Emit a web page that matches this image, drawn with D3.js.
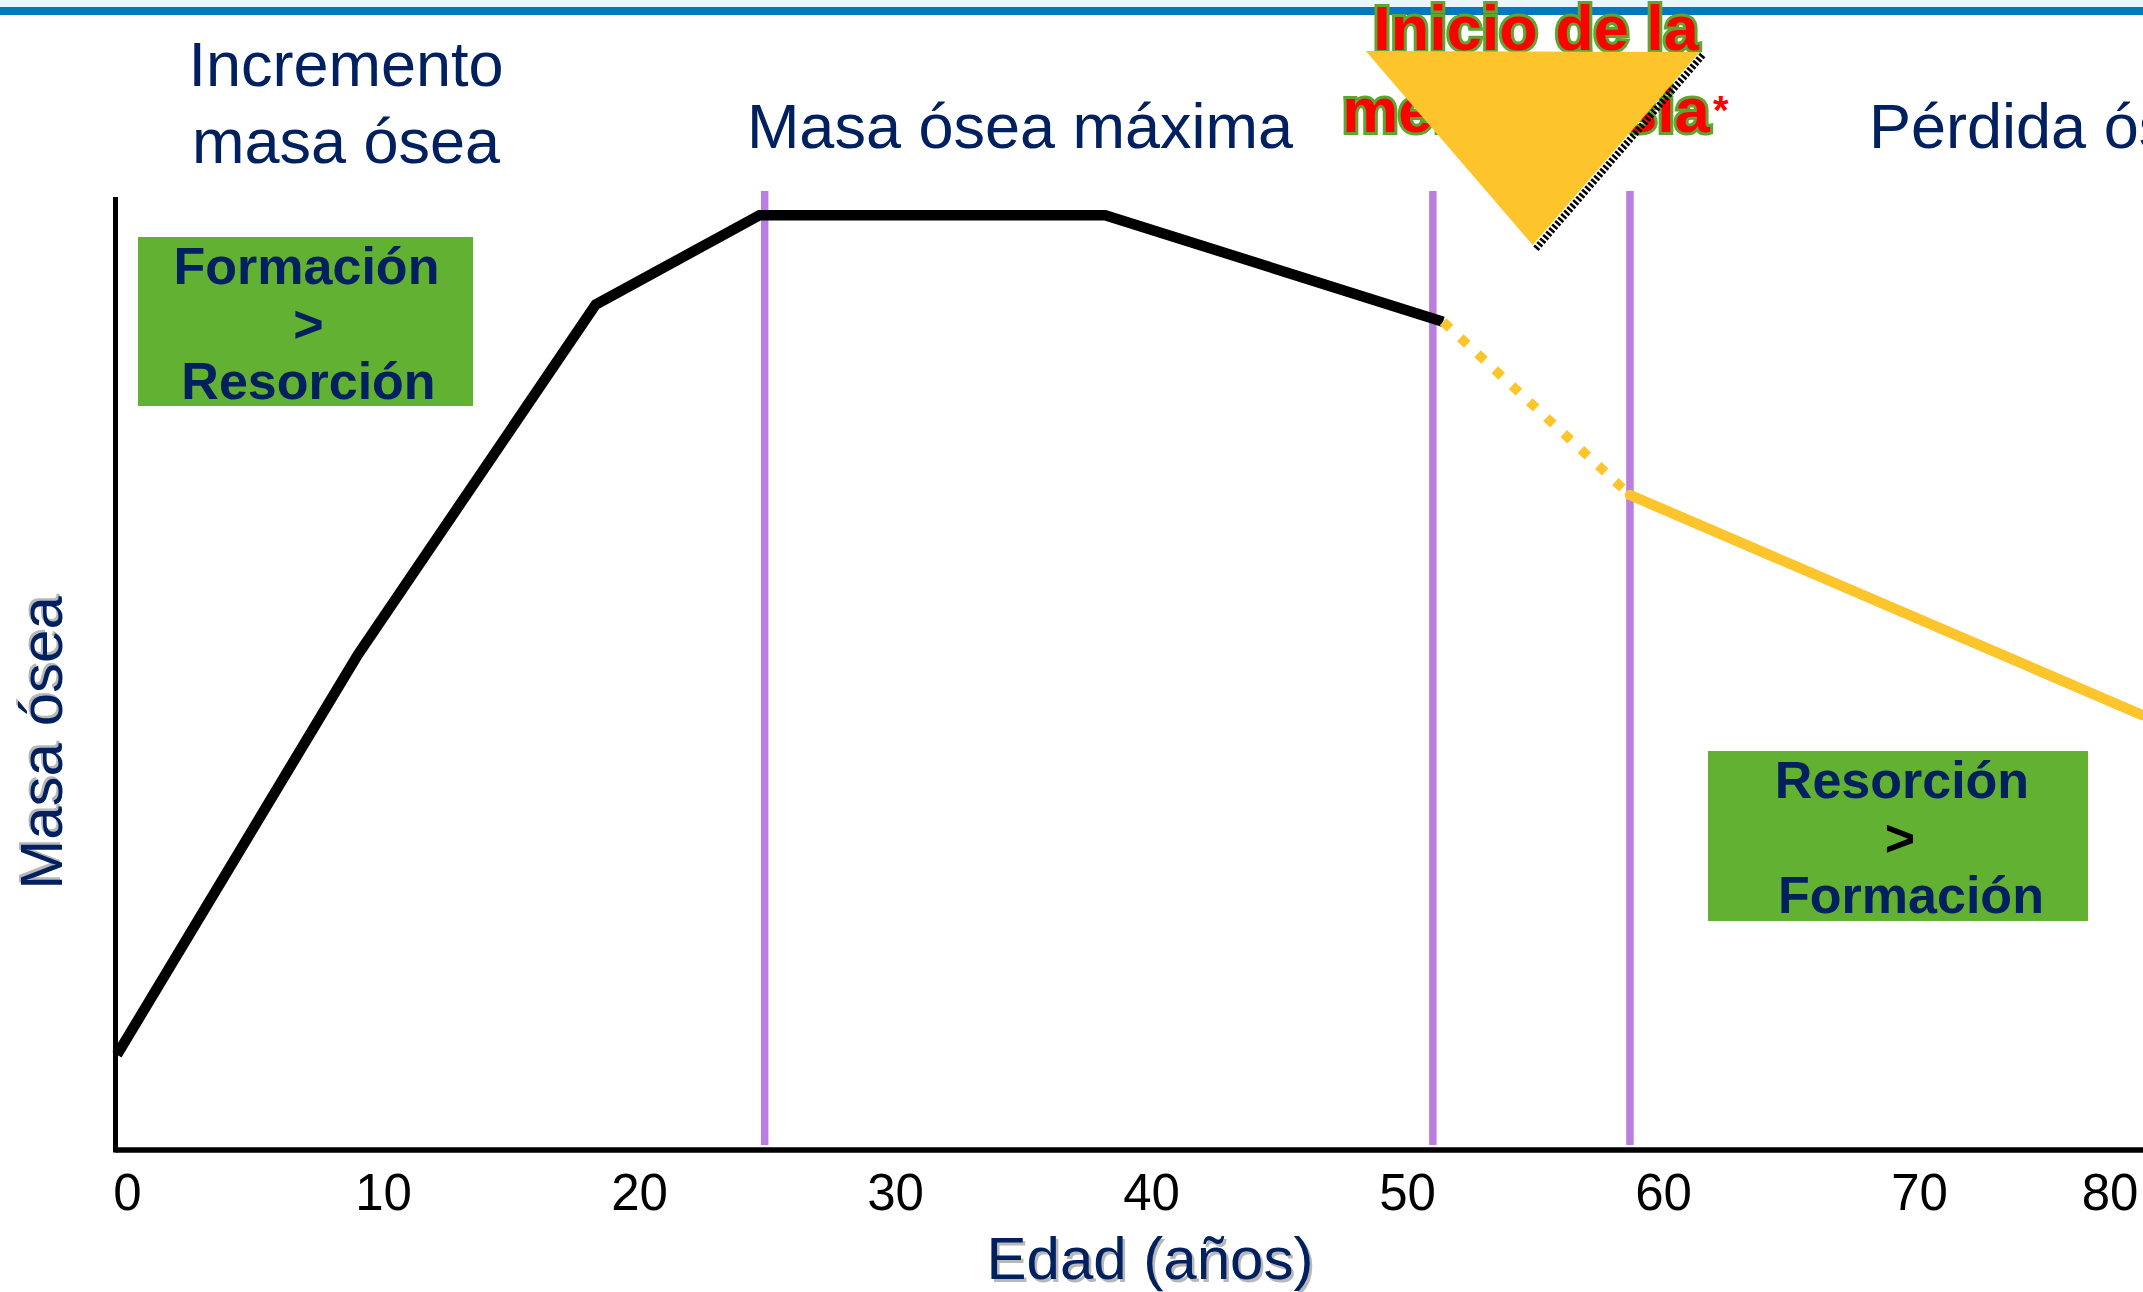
<!DOCTYPE html>
<html>
<head>
<meta charset="utf-8">
<script src="https://cdn.jsdelivr.net/npm/d3@7"></script>
<style>
  html, body { margin: 0; padding: 0; background: #fff; }
  svg { display: block; font-family: 'Liberation Sans', Arial, sans-serif; }
</style>
</head>
<body>
<div id="grafico"></div>
<script>
'use strict';

// Datos
var edadTicks = [0, 10, 20, 30, 40, 50, 60, 70, 80];
// Tramo negro: crecimiento, pico y primera perdida
var edadNegra = [0, 9.4, 18.7, 25.1, 38.6, 51.8];
var masaNegra = [10.0, 52.0, 88.8, 98.2, 98.2, 87.0];
// Tramo punteado amarillo (transicion menopausica)
var edadPunteada = [51.8, 59.1];
var masaPunteada = [87.0, 68.8];
// Tramo amarillo: perdida osea
var edadAmarilla = [59.1, 79.1];
var masaAmarilla = [68.8, 45.7];
// Lineas verticales que separan etapas
var edadCortes = [25.3, 51.4, 59.1];
var edadMenopausia = 55.3;

var W = 2143, H = 1292;
var ejeX = 115.5, ejeY = 1150, topeY = 198;
var navy = '#002060', verde = '#63b132', morado = '#b97ee0', amarillo = '#fdc52c';

var x = d3.scaleLinear().domain([0, 80]).range([117, 117 + 25.6 * 80]);
var y = d3.scaleLinear().domain([0, 100]).range([ejeY, topeY]);

var svg = d3.select('#grafico').append('svg')
  .attr('width', W)
  .attr('height', H);

// Franja superior
svg.append('rect').attr('x', 0).attr('y', 0).attr('width', W).attr('height', 7).attr('fill', '#eaf6fb');
svg.append('rect').attr('x', 0).attr('y', 7).attr('width', W).attr('height', 8).attr('fill', '#0079c1');

// Titulos de etapas
function titulo(lineas, cx, by, size) {
  var t = svg.append('text')
    .attr('text-anchor', 'middle')
    .attr('fill', navy)
    .style('font-size', size + 'px');
  lineas.forEach(function(l, i) {
    t.append('tspan').attr('x', cx).attr('y', by + i * 77).text(l);
  });
  return t;
}
titulo(['Incremento', 'masa ósea'], 346, 86, 63);
titulo(['Masa ósea máxima'], 1020, 148, 63);
svg.append('text')
  .attr('x', 1869).attr('y', 148)
  .attr('fill', navy)
  .style('font-size', '63px')
  .text('Pérdida ósea');

// Inicio de la menopausia (debajo del triangulo)
var menoTxt = svg.append('g')
  .attr('fill', '#ff0000')
  .attr('stroke', '#5ea62e')
  .attr('stroke-width', 6)
  .attr('paint-order', 'stroke')
  .style('font-size', '63px')
  .style('font-weight', 'bold');
menoTxt.append('text').attr('x', 1536).attr('y', 50).attr('text-anchor', 'middle').text('Inicio de la');
menoTxt.append('text').attr('x', 1526).attr('y', 132).attr('text-anchor', 'middle').text('menopausia');
svg.append('text')
  .attr('x', 1713).attr('y', 124)
  .attr('fill', '#ff0000')
  .style('font-size', '40px')
  .style('font-weight', 'bold')
  .text('*');

// Cajas verdes
function caja(x0, y0, w, h, lineas, colores, desp) {
  svg.append('rect')
    .attr('x', x0).attr('y', y0)
    .attr('width', w).attr('height', h)
    .attr('fill', verde);
  lineas.forEach(function(l, i) {
    svg.append('text')
      .attr('x', x0 + w / 2 + desp[i])
      .attr('y', y0 + 47 + i * 57.5)
      .attr('text-anchor', 'middle')
      .attr('fill', colores[i])
      .style('font-size', '52px')
      .style('font-weight', 'bold')
      .text(l);
  });
}
caja(138, 237, 335, 169, ['Formación', '>', 'Resorción'], [navy, navy, navy], [1, 3, 3]);
caja(1708, 751, 380, 170, ['Resorción', '>', 'Formación'], [navy, '#000', navy], [4, 2, 13]);

// Lineas verticales moradas
svg.selectAll('line.corte')
  .data(edadCortes)
  .enter().append('line')
  .attr('class', 'corte')
  .attr('x1', function(d) { return x(d); })
  .attr('x2', function(d) { return x(d); })
  .attr('y1', topeY - 7)
  .attr('y2', ejeY - 5)
  .attr('stroke', morado)
  .attr('stroke-width', 7.5);

// Curva de masa osea
var linea = d3.line()
  .x(function(d) { return x(d[0]); })
  .y(function(d) { return y(d[1]); });

svg.append('path')
  .datum(d3.zip(edadNegra, masaNegra))
  .attr('d', linea)
  .attr('fill', 'none')
  .attr('stroke', '#000')
  .attr('stroke-width', 10.5)
  .attr('stroke-linejoin', 'miter');

svg.append('path')
  .datum(d3.zip(edadPunteada, masaPunteada))
  .attr('d', linea)
  .attr('fill', 'none')
  .attr('stroke', amarillo)
  .attr('stroke-width', 9.5)
  .attr('stroke-dasharray', '9.5 14');

svg.append('path')
  .datum(d3.zip(edadAmarilla, masaAmarilla))
  .attr('d', linea)
  .attr('fill', 'none')
  .attr('stroke', amarillo)
  .attr('stroke-width', 10.5)
  .attr('stroke-linecap', 'round');

// Triangulo de la menopausia
var ap = x(edadMenopausia);
svg.append('line')
  .attr('x1', ap + 170).attr('y1', 55)
  .attr('x2', ap + 3).attr('y2', 249)
  .attr('stroke', '#000')
  .attr('stroke-width', 7)
  .attr('stroke-dasharray', '2.6 2');
svg.append('path')
  .attr('d', 'M' + (ap - 167) + ',51 L' + (ap + 167) + ',52 L' + ap + ',245 Z')
  .attr('fill', '#fdc42b');

// Ejes
svg.append('line')
  .attr('x1', ejeX).attr('x2', W)
  .attr('y1', ejeY).attr('y2', ejeY)
  .attr('stroke', '#000').attr('stroke-width', 5.5);
svg.append('line')
  .attr('x1', ejeX).attr('x2', ejeX)
  .attr('y1', topeY - 1).attr('y2', ejeY + 2.5)
  .attr('stroke', '#000').attr('stroke-width', 5);

var ax = svg.append('g')
  .attr('transform', 'translate(0,' + ejeY + ')')
  .call(d3.axisBottom(x).tickValues(edadTicks).tickSize(0).tickPadding(0));
ax.select('.domain').remove();
ax.selectAll('.tick text')
  .attr('y', 60)
  .attr('dy', 0)
  .attr('dx', 10)
  .attr('fill', '#000')
  .style('font-size', '51px')
  .style('font-family', "'Liberation Sans', Arial, sans-serif");
// la etiqueta 80 queda dentro del borde
ax.selectAll('.tick')
  .filter(function(d) { return x(d) + 10 > W - 33; })
  .attr('transform', 'translate(' + (W - 43) + ',0)');

// Titulos de ejes con sombra
function tituloEje(txt, tx, ty, rot) {
  var g = svg.append('g').attr('transform', 'translate(' + tx + ',' + ty + ') rotate(' + rot + ')');
  g.append('text')
    .attr('x', 2.5).attr('y', rot ? -2.5 : 2.5)
    .attr('text-anchor', 'middle')
    .attr('fill', '#b8b8b8')
    .style('font-size', '60px')
    .text(txt);
  g.append('text')
    .attr('text-anchor', 'middle')
    .attr('fill', navy)
    .style('font-size', '60px')
    .text(txt);
}
tituloEje('Edad (años)', 1150, 1279, 0);
tituloEje('Masa ósea', 62, 743, -90);
</script>
</body>
</html>
